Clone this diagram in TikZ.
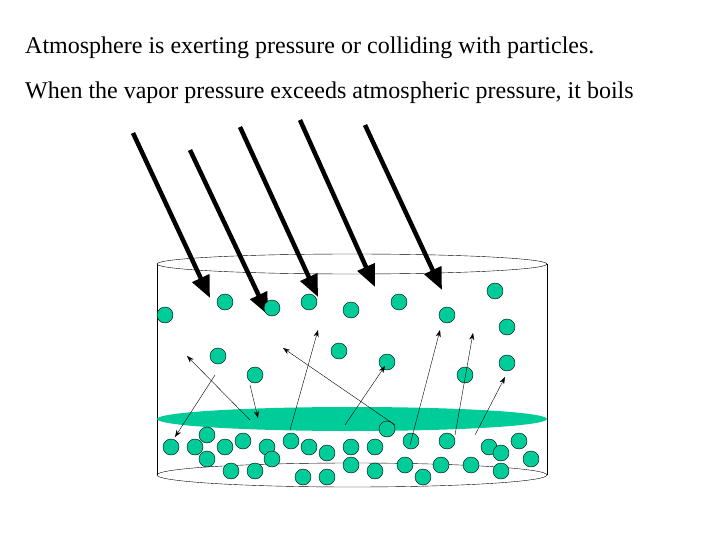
\documentclass[tikz,border=0pt]{standalone}
\usepackage{fontspec}
\setmainfont{Liberation Serif}
\usetikzlibrary{arrows.meta}
\definecolor{liquid}{RGB}{0,204,153}

\begin{document}
\begin{tikzpicture}[x=1pt, y=-1pt]
 \tikzset{
particle/.style = {circle, draw=black, fill=liquid, inner sep=0pt, minimum size=16pt},
push/.style = {line width=4.5pt, -{Triangle[length=22pt,width=18pt]}},
hop/.style = {thin, -{Stealth[length=7pt,width=5pt]}},
caption/.style = {anchor=west, inner sep=0pt, font=\rmfamily\fontsize{24}{28}\selectfont}}

\useasboundingbox (0,0) rectangle (720,540);

% texts
\node [caption] (t1) at (25,48) {Atmosphere is exerting pressure or colliding with particles.};
\node [caption] (t2) at (25,93) {When the vapor pressure exceeds atmospheric pressure, it boils};

% container
\draw (157,264) -- (157,475);
\draw (547,264) -- (547,475);
\draw [fill=white] (352,264) ellipse [x radius=195, y radius=10];
\draw (352,475) ellipse [x radius=195, y radius=12];
\fill [liquid] (352,419) ellipse [x radius=195, y radius=12];

% atmosphere pushing down
\foreach \i/\xa/\ya/\xb/\yb in {1/133/133/210/298, 2/190/150/268/315, 3/240/127/318/297,
                                4/300/120/375/287, 5/365/125/442/290} {
  \coordinate (A\i) at (\xa,\ya);
  \coordinate (B\i) at (\xb,\yb);
  \draw [push] (A\i) -- (B\i);
}

% particles
\foreach \x/\y [count=\n] in {165/315, 225/302, 272/308, 309/302, 351/310, 399/302, 447/315,
    495/291, 507/327, 218/356, 255/375, 339/351, 387/362, 465/375, 507/363,
    171/447, 195/447, 207/435, 207/459, 225/447, 243/441, 231/471, 255/471, 267/447,
    272/459, 291/441, 309/447, 327/453, 303/477, 327/477, 351/447, 351/465, 375/447,
    375/471, 387/429, 405/465, 411/441, 423/477, 441/465, 447/441, 471/465, 489/447,
    501/453, 501/471, 519/441, 531/459}
  \node [particle] (p\n) at (\x,\y) {};

% escaping particles
\foreach \i/\xa/\ya/\xb/\yb in {1/250/420/187/356, 2/215/375/175/437, 3/250/385/258/418,
    4/395/425/283/348, 5/290/430/318/330, 6/345/425/385/366, 7/410/445/440/330,
    8/455/435/473/333, 9/475/435/505/377} {
  \coordinate (S\i) at (\xa,\ya);
  \coordinate (E\i) at (\xb,\yb);
  \draw [hop] (S\i) -- (E\i);
}
\end{tikzpicture}
\end{document}
